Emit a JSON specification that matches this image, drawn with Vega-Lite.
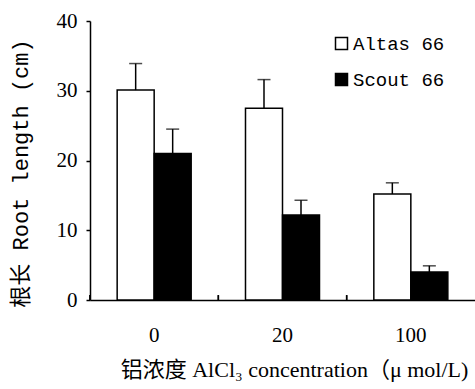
{
  "$schema": "https://vega.github.io/schema/vega-lite/v6.json",
  "width": 385,
  "height": 279,
  "autosize": {"type": "none"},
  "padding": {"left": 90, "top": 21, "right": 0, "bottom": 89},
  "background": "white",
  "config": {
    "view": {"stroke": null},
    "axis": {"domainColor": "black", "domainWidth": 1.5, "tickColor": "black", "tickWidth": 1.5, "labelColor": "black", "titleColor": "black", "grid": false, "titleFontWeight": "normal"}
  },
  "data": {
    "values": [
      {"conc": "0", "cultivar": "Altas 66", "length": 30.1, "upper": 33.9},
      {"conc": "0", "cultivar": "Scout 66", "length": 21.0, "upper": 24.5},
      {"conc": "20", "cultivar": "Altas 66", "length": 27.5, "upper": 31.6},
      {"conc": "20", "cultivar": "Scout 66", "length": 12.2, "upper": 14.3},
      {"conc": "100", "cultivar": "Altas 66", "length": 15.2, "upper": 16.8},
      {"conc": "100", "cultivar": "Scout 66", "length": 4.0, "upper": 4.9}
    ]
  },
  "encoding": {
    "x": {
      "field": "conc", "type": "nominal", "sort": ["0", "20", "100"],
      "scale": {"paddingInner": 0, "paddingOuter": 0},
      "axis": {
        "title": "铝浓度 AlCl₃ concentration（μ mol/L)",
        "labelAngle": 0,
        "labelFont": "Liberation Serif", "labelFontSize": 21,
        "labelPadding": 24,
        "ticks": false,
        "titleFont": "Liberation Serif, Noto Sans CJK SC", "titleFontSize": 22,
        "titleX": 204, "titleY": 76, "titleBaseline": "alphabetic", "titleAnchor": "middle", "titleAlign": "center"
      }
    }
  },
  "layer": [
    {
      "mark": {"type": "bar", "stroke": "black", "strokeWidth": 1.5},
      "encoding": {
        "xOffset": {
          "field": "cultivar", "type": "nominal", "sort": ["Altas 66", "Scout 66"],
          "scale": {"paddingInner": 0, "paddingOuter": 0.734}
        },
        "y": {
          "field": "length", "type": "quantitative",
          "scale": {"domain": [0, 40], "nice": false},
          "axis": {
            "values": [0, 10, 20, 30, 40],
            "title": "根长 Root length (cm)",
            "labelFont": "Liberation Serif", "labelFontSize": 21,
            "tickSize": 4, "labelPadding": 9,
            "titleFont": "Liberation Mono, Noto Sans CJK SC", "titleFontSize": 22,
            "titleX": -70, "titleY": 152, "titleAngle": -90, "titleBaseline": "middle", "titleAlign": "center", "titleAnchor": "middle"
          }
        },
        "fill": {
          "field": "cultivar", "type": "nominal",
          "scale": {"domain": ["Altas 66", "Scout 66"], "range": ["white", "black"]},
          "legend": {
            "title": null, "orient": "none", "legendX": 242, "legendY": 13,
            "padding": 0, "symbolType": "square", "symbolSize": 144,
            "symbolStrokeColor": "black", "symbolStrokeWidth": 1.5,
            "labelFont": "Liberation Mono", "labelFontSize": 19, "labelColor": "black",
            "labelOffset": 2, "rowPadding": 16
          }
        }
      }
    },
    {
      "mark": {"type": "rule", "color": "black", "strokeWidth": 1.5},
      "encoding": {
        "xOffset": {"field": "cultivar", "type": "nominal", "sort": ["Altas 66", "Scout 66"]},
        "y": {"field": "length", "type": "quantitative"},
        "y2": {"field": "upper"}
      }
    },
    {
      "mark": {"type": "tick", "color": "black", "thickness": 1.5, "size": 13},
      "encoding": {
        "xOffset": {"field": "cultivar", "type": "nominal", "sort": ["Altas 66", "Scout 66"]},
        "y": {"field": "upper", "type": "quantitative"}
      }
    },
    {
      "mark": {"type": "rule", "color": "black", "strokeWidth": 1.5},
      "encoding": {
        "x": {"field": "conc", "type": "nominal", "sort": ["0", "20", "100"], "bandPosition": 0},
        "y": {"datum": 0},
        "y2": {"datum": 0.7}
      }
    }
  ]
}
